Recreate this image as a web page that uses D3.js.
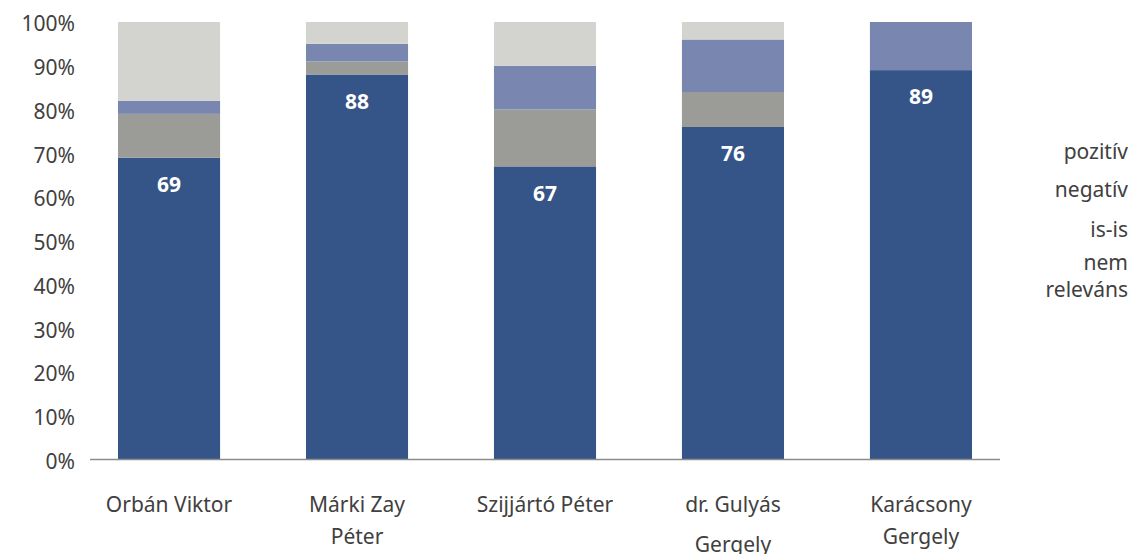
<!DOCTYPE html>
<html>
<head>
<meta charset="utf-8">
<script src="https://cdn.jsdelivr.net/npm/d3@7"></script>
<style>
  body { margin: 0; background: #fff; }
  svg text { font-family: "Segoe UI", "Noto Sans", sans-serif; }
</style>
</head>
<body>
<svg id="chart"></svg>
<script>
// candidates (line-broken as in the original)
const categories = [["Orbán Viktor"], ["Márki Zay", "Péter"], ["Szijjártó Péter"], ["dr. Gulyás", "Gergely"], ["Karácsony", "Gergely"]];
const seriesNames = ["pozitív", "negatív", "is-is", "nem releváns"];
const pozitiv = [69, 88, 67, 76, 89];
const negativ = [10, 3, 13, 8, 0];
const isis = [3, 4, 10, 12, 11];
const nemRelevans = [18, 5, 10, 4, 0];
const yTicks = [0, 0.1, 0.2, 0.3, 0.4, 0.5, 0.6, 0.7, 0.8, 0.9, 1];

const colors = ["#355487", "#9b9c98", "#7986b0", "#d3d3cf"];

const W = 1132, H = 554;
const svg = d3.select("#chart").attr("width", W).attr("height", H);

const rows = categories.map(function(c, i) {
  return { name: c.join(" "), "pozitív": pozitiv[i], "negatív": negativ[i], "is-is": isis[i], "nem releváns": nemRelevans[i] };
});

const x = d3.scaleBand().domain(rows.map(d => d.name)).range([90, 1000])
  .paddingInner(0.457).paddingOuter(0.149);
const y = d3.scaleLinear().domain([0, 1]).range([459.5, 22]);

const stack = d3.stack().keys(seriesNames);
const layers = stack(rows);

// bars
const g = svg.append("g");
g.selectAll(".layer").data(layers).enter().append("g")
  .attr("class", "layer")
  .attr("fill", (d, i) => colors[i])
  .selectAll("rect").data(d => d).enter().append("rect")
  .attr("x", d => x(d.data.name))
  .attr("width", x.bandwidth())
  .attr("y", d => y(d[1] / 100))
  .attr("height", d => y(d[0] / 100) - y(d[1] / 100));

// value labels on pozitív
g.selectAll(".val").data(layers[0]).enter().append("text")
  .attr("class", "val")
  .attr("x", d => x(d.data.name) + x.bandwidth() / 2)
  .attr("y", d => y(d[1] / 100) + 27)
  .attr("dy", "0.35em")
  .attr("text-anchor", "middle")
  .attr("fill", "#fff")
  .style("font-weight", "bold")
  .style("font-size", "21px")
  .text(d => d[1] - d[0]);

// y axis labels
svg.append("g").selectAll("text").data(yTicks).enter().append("text")
  .attr("x", 75)
  .attr("y", d => y(d) + 2)
  .attr("dy", "0.35em")
  .attr("text-anchor", "end")
  .attr("fill", "#404040")
  .style("font-size", "21px")
  .text(d3.format(".0%"));

// x axis line
svg.append("line")
  .attr("x1", 90).attr("x2", 1000)
  .attr("y1", 459.5).attr("y2", 459.5)
  .attr("stroke", "#8c8c8c").attr("stroke-width", 1.5);

// category labels
const xl = svg.append("g").selectAll("g").data(categories).enter().append("text")
  .attr("text-anchor", "middle")
  .attr("fill", "#404040")
  .style("font-size", "21px")
  .attr("transform", (d, i) => "translate(" + (x(rows[i].name) + x.bandwidth() / 2) + ",512)");
xl.selectAll("tspan").data((d, i) => d.map(t => ({ t: t, i: i }))).enter().append("tspan")
  .attr("x", 0)
  .attr("y", (d, j) => j === 0 ? 0 : (d.i === 3 ? 40 : 32))
  .text(d => d.t);

// legend (text only, swatches sit outside the picture)
const legendLines = [["pozitív"], ["negatív"], ["is-is"], ["nem", "releváns"]];
const legendY = [152, 190, 230, 263];
svg.append("g").selectAll("text").data(legendLines).enter().append("text")
  .attr("text-anchor", "end")
  .attr("fill", "#404040")
  .style("font-size", "21px")
  .attr("transform", (d, i) => "translate(1128," + legendY[i] + ")")
  .selectAll("tspan").data(d => d).enter().append("tspan")
  .attr("x", 0)
  .attr("y", (d, j) => j * 27)
  .attr("dy", "0.35em")
  .text(d => d);
</script>
</body>
</html>
